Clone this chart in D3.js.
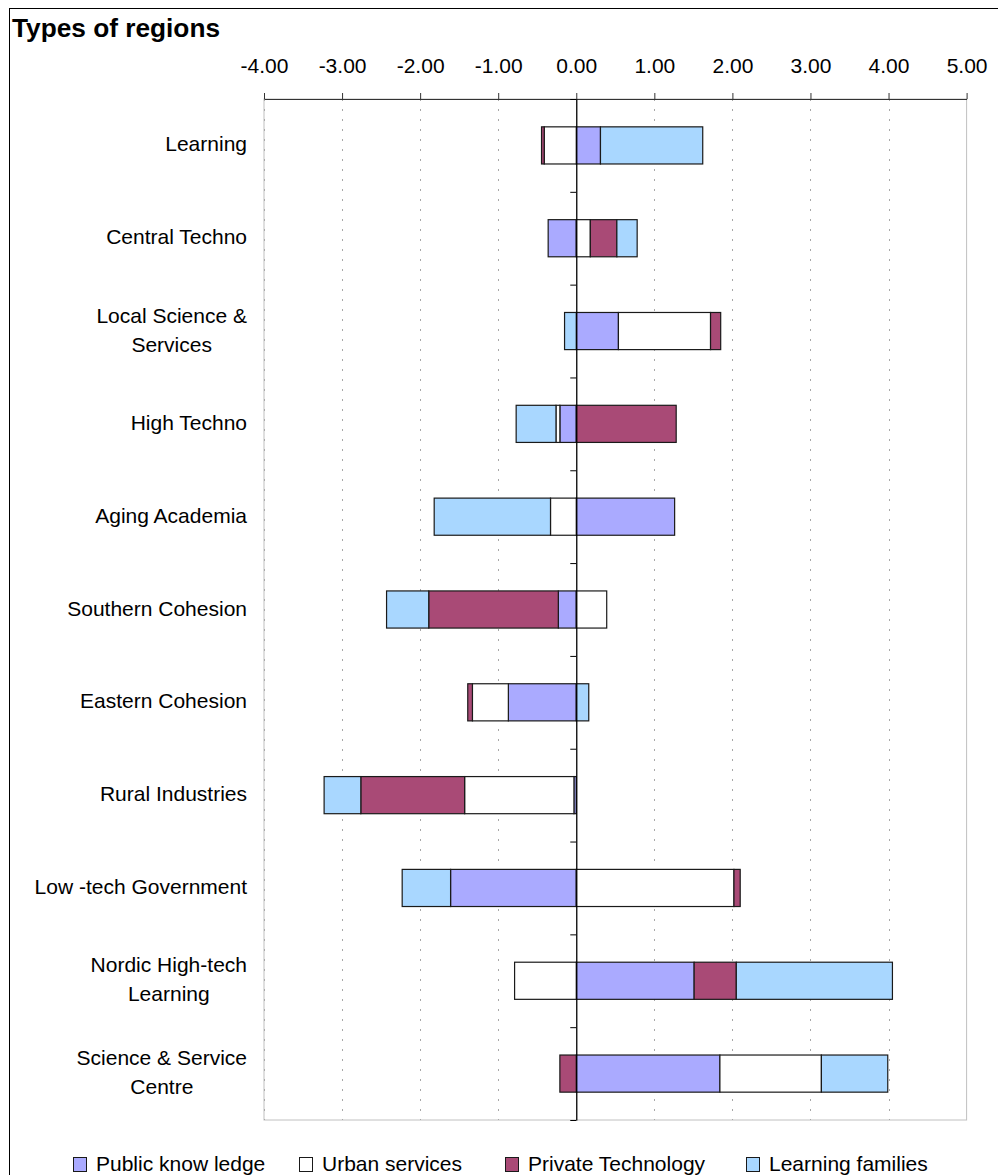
<!DOCTYPE html>
<html>
<head>
<meta charset="utf-8">
<script src="https://cdn.jsdelivr.net/npm/d3@7"></script>
<style>
  html, body { margin: 0; padding: 0; background: #fff; }
  svg { display: block; font-family: Arial, "Liberation Sans", sans-serif; }
</style>
</head>
<body>
<svg id="chart" width="998" height="1175"></svg>
<script>
// ---------------- data ----------------
const categories = [
  ["Learning"],
  ["Central Techno"],
  ["Local Science &", "Services"],
  ["High Techno"],
  ["Aging Academia"],
  ["Southern Cohesion"],
  ["Eastern Cohesion"],
  ["Rural Industries"],
  ["Low -tech Government"],
  ["Nordic High-tech", "Learning"],
  ["Science & Service", "Centre"]
];
const seriesNames = ["Public know ledge", "Urban services", "Private Technology", "Learning families"];
const publicKnowledge   = [ 0.31, -0.36,  0.54, -0.21,  1.26, -0.23, -0.87, -0.03, -1.61,  1.51,  1.84];
const urbanServices     = [-0.41,  0.18,  1.18, -0.05, -0.33,  0.39, -0.46, -1.40,  2.02, -0.79,  1.30];
const privateTechnology = [-0.035, 0.34,  0.13,  1.28,  0.00, -1.66, -0.06, -1.33,  0.08,  0.54, -0.21];
const learningFamilies  = [ 1.31,  0.26, -0.15, -0.51, -1.49, -0.54,  0.16, -0.47, -0.62,  2.00,  0.85];
const tickValues = [-4, -3, -2, -1, 0, 1, 2, 3, 4, 5];
const titleText = "Types of regions";

// ---------------- styles ----------------
const colors = ["#aaaaff", "#ffffff", "#a94a76", "#a9d7ff"];
const FS = 21;

const svg = d3.select("#chart");
const catKeys = categories.map(c => c.join(" "));
const table = catKeys.map((k, i) => ({
  category: k,
  [seriesNames[0]]: publicKnowledge[i],
  [seriesNames[1]]: urbanServices[i],
  [seriesNames[2]]: privateTechnology[i],
  [seriesNames[3]]: learningFamilies[i]
}));

const plot = { left: 264, right: 966.6, top: 99, bottom: 1120 };
const x = d3.scaleLinear().domain([-4, 5]).range([plot.left, plot.right]);
const y = d3.scaleBand().domain(catKeys).range([plot.top, plot.bottom]).paddingInner(0.6).paddingOuter(0.3);
const yEdge = d3.scaleLinear().domain([0, catKeys.length]).range([plot.top, plot.bottom]);

// outer frame
svg.append("rect").attr("x", 9.5).attr("y", 8.5).attr("width", 1000).attr("height", 1200)
  .attr("fill", "none").attr("stroke", "#000").attr("stroke-width", 1);

// plot area border
svg.append("rect").attr("x", plot.left).attr("y", plot.top)
  .attr("width", plot.right - plot.left).attr("height", plot.bottom - plot.top)
  .attr("fill", "none").attr("stroke", "#c0c0c0").attr("stroke-width", 1);

// gridlines
svg.append("g").selectAll("line").data(tickValues.filter(v => v !== 0 && v !== 5)).join("line")
  .attr("x1", d => Math.round(x(d)) + 0.5).attr("x2", d => Math.round(x(d)) + 0.5)
  .attr("y1", plot.top).attr("y2", plot.bottom)
  .attr("stroke", "#a8a8a8").attr("stroke-width", 1).attr("stroke-dasharray", "2,8");

// stacked bars (diverging)
const stack = d3.stack().keys(seriesNames).offset(d3.stackOffsetDiverging);
const layers = stack(table);
svg.append("g").selectAll("g").data(layers).join("g")
  .attr("fill", (d, i) => colors[i])
  .selectAll("rect")
  .data(d => d.filter(s => Math.abs(s[1] - s[0]) > 1e-9))
  .join("rect")
  .attr("x", d => x(Math.min(d[0], d[1])))
  .attr("width", d => Math.abs(x(d[1]) - x(d[0])))
  .attr("y", d => y(d.data.category))
  .attr("height", y.bandwidth())
  .attr("stroke", "#1a1a1a").attr("stroke-width", 1.2);

// value axis (top)
const xAxis = d3.axisTop(x).tickValues(tickValues).tickFormat(d => d.toFixed(2))
  .tickSize(6).tickSizeOuter(0).tickPadding(20);
const gx = svg.append("g").attr("transform", `translate(0,${plot.top})`).call(xAxis);
gx.select(".domain").attr("stroke", "#333");
gx.selectAll(".tick line").attr("stroke", "#333");
gx.selectAll(".tick text").attr("font-size", FS).attr("fill", "#000")
  .attr("font-family", "Arial, 'Liberation Sans', sans-serif");

// category axis at zero
const yAxis = d3.axisLeft(yEdge).tickValues(d3.range(0, catKeys.length + 1))
  .tickFormat("").tickSize(6).tickSizeOuter(0);
const gy = svg.append("g").attr("transform", `translate(${x(0)},0)`).call(yAxis);
gy.select(".domain").attr("stroke", "#000").attr("stroke-width", 1.3);
gy.selectAll(".tick line").attr("stroke", "#000");

// category labels
const labelRight = 247;
const lineGap = 29;
const lab = svg.append("g").selectAll("g").data(categories).join("g")
  .attr("transform", (d, i) => `translate(${labelRight},${y(catKeys[i]) + y.bandwidth() / 2})`);
lab.each(function (lines) {
  const g = d3.select(this);
  const texts = g.selectAll("text").data(lines).join("text")
    .attr("font-size", FS).attr("fill", "#000")
    .text(d => d);
  let maxW = 0;
  texts.each(function () { maxW = Math.max(maxW, this.getComputedTextLength()); });
  const n = lines.length;
  texts.attr("text-anchor", "middle").attr("x", -maxW / 2)
    .attr("y", (d, j) => 6 + (j - (n - 1) / 2) * lineGap);
});

// title
svg.append("text").attr("transform", `translate(12,37) scale(1.05,1)`)
  .attr("font-size", 25).attr("font-weight", "bold").attr("fill", "#000").text(titleText);

// legend
const legendX = [73, 299, 505, 746];
const lg = svg.append("g").selectAll("g").data(seriesNames).join("g")
  .attr("transform", (d, i) => `translate(${legendX[i]},1157)`);
lg.append("rect").attr("x", 0.5).attr("y", 0.5).attr("width", 13).attr("height", 14)
  .attr("fill", (d, i) => colors[i]).attr("stroke", "#1a1a1a").attr("stroke-width", 1);
lg.append("text").attr("x", 23).attr("y", 14)
  .attr("font-size", FS).attr("fill", "#000").text(d => d);
</script>
</body>
</html>
